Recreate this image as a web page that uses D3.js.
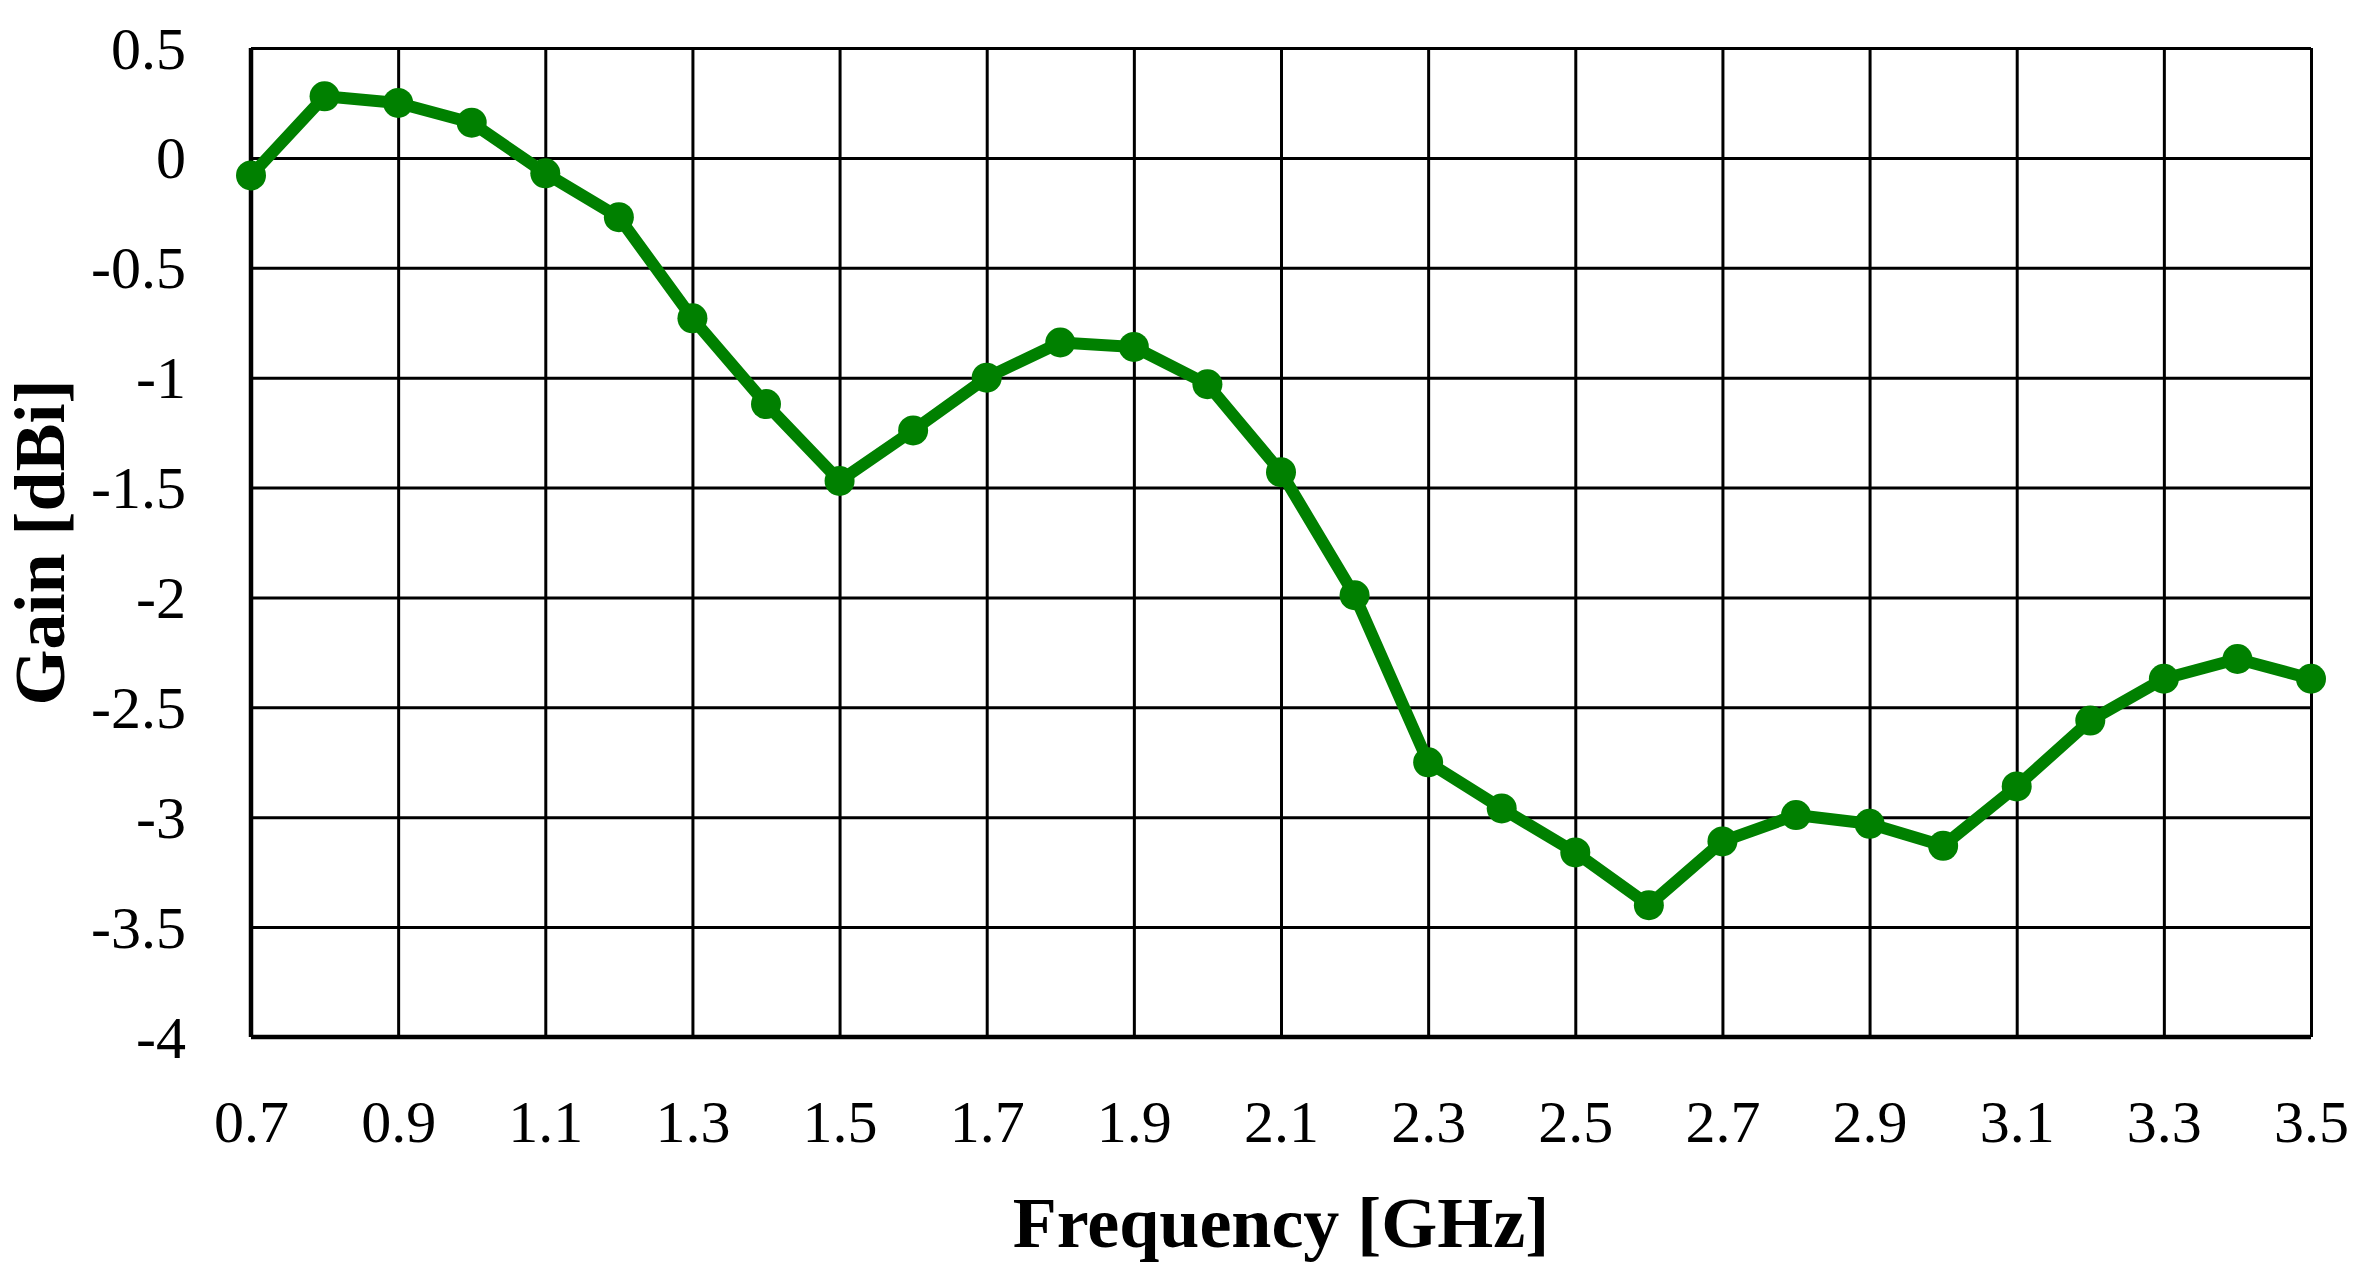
<!DOCTYPE html>
<html>
<head>
<meta charset="utf-8">
<script src="https://cdn.jsdelivr.net/npm/d3@7"></script>
<style>
body { margin: 0; background: #fff; }
svg { display: block; font-family: 'Liberation Serif', 'Times New Roman', serif; }
</style>
</head>
<body>
<svg></svg>
<script>
// measured gain vs frequency
const frequency = [0.7, 0.8, 0.9, 1.0, 1.1, 1.2, 1.3, 1.4, 1.5, 1.6, 1.7, 1.8, 1.9, 2.0, 2.1,
    2.2, 2.3, 2.4, 2.5, 2.6, 2.7, 2.8, 2.9, 3.0, 3.1, 3.2, 3.3, 3.4, 3.5];
const gain = [-0.08, 0.28, 0.25, 0.16, -0.07, -0.27, -0.73, -1.12, -1.47, -1.24, -1.0, -0.84, -0.86, -1.03, -1.43,
    -1.99, -2.75, -2.96, -3.16, -3.4, -3.11, -2.99, -3.03, -3.13, -2.86, -2.56, -2.37, -2.28, -2.37];

const xTicks = [0.7, 0.9, 1.1, 1.3, 1.5, 1.7, 1.9, 2.1, 2.3, 2.5, 2.7, 2.9, 3.1, 3.3, 3.5];
const yTicks = [0.5, 0, -0.5, -1, -1.5, -2, -2.5, -3, -3.5, -4];

const xTitle = 'Frequency [GHz]';
const yTitle = 'Gain [dBi]';

const margin = {t: 48, r: 53, b: 243, l: 251};
const size = {w: 2364, h: 1280};
const width = size.w - margin.l - margin.r;
const height = size.h - margin.t - margin.b;
const green = '#008000';

const svg = d3.select('svg')
    .attr('width', size.w)
    .attr('height', size.h);

const x = d3.scaleLinear().domain([0.7, 3.5]).range([0, width]);
const y = d3.scaleLinear().domain([-4, 0.5]).range([height, 0]);

const g = svg.append('g').attr('transform', `translate(${margin.l},${margin.t})`);

// vertical grid + x labels
const xAxis = g.append('g')
    .attr('transform', `translate(0,${height})`)
    .call(d3.axisBottom(x)
        .tickValues(xTicks)
        .tickSize(-height)
        .tickFormat(d3.format('.1f')))
    .attr('font-family', null)
    .attr('font-size', 60);
xAxis.select('.domain').remove();
xAxis.selectAll('.tick line').attr('stroke', '#000').attr('stroke-width', 3);
xAxis.selectAll('.tick text')
    .attr('y', 105)
    .attr('dy', null)
    .attr('fill', '#000');

// horizontal grid + y labels
const yAxis = g.append('g')
    .call(d3.axisLeft(y)
        .tickValues(yTicks)
        .tickSize(-width)
        .tickFormat(d => String(d)))
    .attr('font-family', null)
    .attr('font-size', 60);
yAxis.select('.domain').remove();
yAxis.selectAll('.tick line').attr('stroke', '#000').attr('stroke-width', 3);
yAxis.selectAll('.tick text')
    .attr('x', -65)
    .attr('dy', 20)
    .attr('fill', '#000');

// heavier left and bottom axis lines
g.append('line')
    .attr('x1', 0).attr('x2', 0)
    .attr('y1', 0).attr('y2', height)
    .attr('stroke', '#000').attr('stroke-width', 4.5);
g.append('line')
    .attr('x1', 0).attr('x2', width)
    .attr('y1', height).attr('y2', height)
    .attr('stroke', '#000').attr('stroke-width', 4.5);

const points = frequency.map((f, i) => ({f: f, v: gain[i]}));

const line = d3.line()
    .x(d => x(d.f))
    .y(d => y(d.v));

g.append('path')
    .datum(points)
    .attr('fill', 'none')
    .attr('stroke', green)
    .attr('stroke-width', 12)
    .attr('stroke-linejoin', 'round')
    .attr('d', line);

g.append('g')
    .selectAll('circle')
    .data(points)
    .join('circle')
    .attr('cx', d => x(d.f))
    .attr('cy', d => y(d.v))
    .attr('r', 15)
    .attr('fill', green);

// axis titles
svg.append('text')
    .attr('x', margin.l + width / 2)
    .attr('y', 1247)
    .attr('text-anchor', 'middle')
    .attr('font-size', 72)
    .attr('font-weight', 'bold')
    .text(xTitle);

svg.append('text')
    .attr('transform', `translate(64,${margin.t + height / 2}) rotate(-90)`)
    .attr('text-anchor', 'middle')
    .attr('font-size', 72)
    .attr('font-weight', 'bold')
    .text(yTitle);
</script>
</body>
</html>
